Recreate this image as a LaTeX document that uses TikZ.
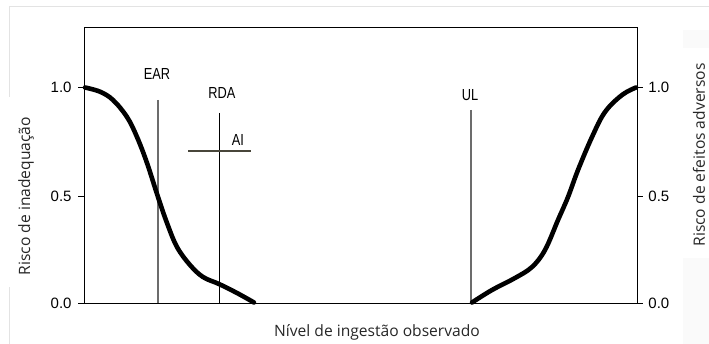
\documentclass[tikz,border=0pt]{standalone}
\usepackage{fontspec}
\usepackage{graphicx}
\setmainfont{Open Sans}
\newfontfamily\labelfont{Liberation Sans}
\usetikzlibrary{positioning}
\definecolor{aicolor}{RGB}{72,70,58}
\tikzset{frame/.style={draw=gray!22, line width=1pt}, box/.style={draw=black, line width=0.9pt}, risk/.style={line width=4.6pt, line cap=round, line join=round}, refline/.style={line width=1pt}, ailine/.style={draw=aicolor, line width=2.4pt}, ticklabel/.style={inner sep=0pt, font=\labelfont\fontsize{15}{18}\selectfont}, marklabel/.style={inner sep=0pt, font=\labelfont\fontsize{16}{19}\selectfont}, axistitle/.style={inner sep=0pt, text=black!85, font=\fontsize{15.6}{18}\selectfont}}
\newcommand{\narrow}[1]{\scalebox{0.8}[1]{#1}}

\begin{document}
\begin{tikzpicture}[x=1pt, y=-1pt]
\useasboundingbox (0,0) rectangle (709,344);
\fill[gray!4] (683,30) rectangle (709,344);
\fill[white] (683,48) rectangle (709,258);
\draw[frame] (9,97) -- (9,7) -- (709,7);
\draw[frame] (9,287) -- (9,344);
\draw[box] (84,27) coordinate (boxNW) rectangle (637,303) coordinate (boxSE);
\foreach \v/\y in {0.0/303, 0.5/196.5, 1.0/87.5} {
  \draw[box] (84,\y) -- ++(-6,0) node (left\y) [ticklabel, anchor=east, xshift=-6pt] {\v};
  \draw[box] (637,\y) -- ++(6,0) node (right\y) [ticklabel, anchor=west, xshift=5pt] {\v};
}
\node (EAR-text) [marklabel] at (157,74) {\narrow{EAR}};
\node (RDA-text) [marklabel] at (222,92.5) {\narrow{RDA}};
\node (UL-text) [marklabel] at (470,95) {\narrow{UL}};
\node (AI-text) [marklabel] at (238,140) {\narrow{AI}};
\coordinate (EARtop) at (158,100);
\coordinate (RDAtop) at (219,113);
\coordinate (ULtop) at (471,110);
\draw[refline, draw=gray!85!black, line width=1.3pt] (EARtop) -- (EARtop |- boxSE);
\draw[refline, draw=black] (RDAtop) -- (RDAtop |- boxSE);
\draw[refline, draw=gray!85!black, line width=1.3pt] (ULtop) -- (ULtop |- boxSE);
\draw[ailine] (188,151) coordinate (AIleft) -- (251,151) coordinate (AIright);
\draw[risk] plot[smooth, tension=0.6] coordinates {(85,87.5) (100,91.7) (113,100) (127,117) (137,137) (147,163) (158,197) (167,223) (177,247) (190,265) (203,277) (219,284) (237,293) (254,302.5)};
\draw[risk] plot[smooth, tension=0.6] coordinates {(472,302.5) (492,290) (515,278) (532,267) (545,250) (558,220) (568,197) (578,170) (592,137) (605,112) (622,95) (636,87.5)};
\node (xtitle) [axistitle] at (377,332) {Nível de ingestão observado};
\node (ytitle) [axistitle, rotate=90] at (26,196) {Risco de inadequação};
\node (y2title) [axistitle, rotate=90] at (699,155) {Risco de efeitos adversos};
\end{tikzpicture}
\end{document}
